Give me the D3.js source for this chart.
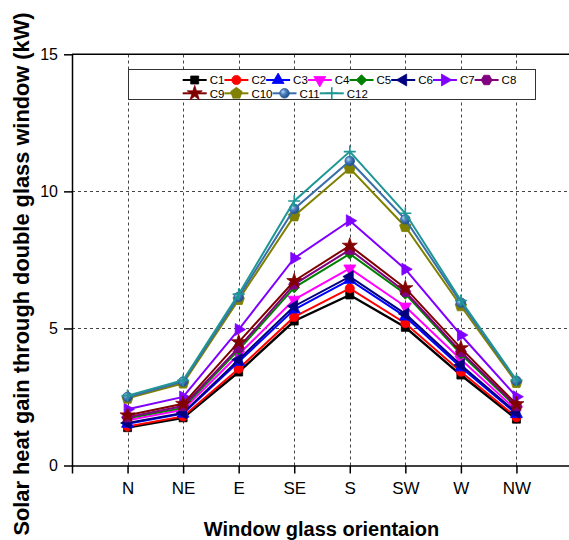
<!DOCTYPE html>
<html>
<head>
<meta charset="utf-8">
<script src="https://cdn.jsdelivr.net/npm/d3@7"></script>
<style>
    body { margin: 0; background: #fff; }
    text { font-family: Arial, 'Liberation Sans', sans-serif; }
</style>
</head>
<body>
<div id="viz"></div>
<script>
const categories = ['N', 'NE', 'E', 'SE', 'S', 'SW', 'W', 'NW']
const yTicks = [0, 5, 10, 15]

const seriesNames = ['C1', 'C2', 'C3', 'C4', 'C5', 'C6', 'C7', 'C8', 'C9', 'C10', 'C11', 'C12']

const c1 = [1.38, 1.74, 3.41, 5.27, 6.22, 5.04, 3.30, 1.69]
const c2 = [1.42, 1.79, 3.53, 5.42, 6.46, 5.19, 3.42, 1.76]
const c3 = [1.52, 1.89, 3.78, 5.69, 6.77, 5.43, 3.58, 1.88]
const c4 = [1.65, 2.03, 4.05, 6.05, 7.19, 5.80, 3.87, 2.02]
const c5 = [1.72, 2.10, 4.22, 6.49, 7.72, 6.26, 4.07, 2.12]
const c6 = [1.55, 1.92, 3.86, 5.81, 6.89, 5.53, 3.67, 1.93]
const c7 = [2.05, 2.50, 4.96, 7.56, 8.93, 7.16, 4.76, 2.51]
const c8 = [1.76, 2.17, 4.30, 6.61, 7.87, 6.34, 4.15, 2.17]
const c9 = [1.83, 2.25, 4.50, 6.73, 8.02, 6.47, 4.28, 2.24]
const c10 = [2.45, 3.00, 6.05, 9.10, 10.84, 8.71, 5.82, 3.02]
const c11 = [2.50, 3.06, 6.15, 9.36, 11.11, 8.98, 5.94, 3.09]
const c12 = [2.55, 3.11, 6.25, 9.65, 11.45, 9.20, 6.02, 3.12]

const seriesValues = [c1, c2, c3, c4, c5, c6, c7, c8, c9, c10, c11, c12]

const colors = ['#000000', '#ff0000', '#0000ff', '#ff00ff', '#008000', '#000080',
    '#8000ff', '#800080', '#800000', '#808000', '#3a6ea8', '#1f9696']

// regular polygon path for hexagon / pentagon markers
const polygon = (n, r, rot) => {
    const pts = d3.range(n).map(i => {
        const a = rot + i * 2 * Math.PI / n
        return [r * Math.sin(a), -r * Math.cos(a)]
    })
    return 'M' + pts.map(p => p.join(',')).join('L') + 'Z'
}

const markers = [
    { path: d3.symbol(d3.symbolSquare, 64)(), rot: 0 },
    { path: d3.symbol(d3.symbolCircle, 66)(), rot: 0 },
    { path: d3.symbol(d3.symbolTriangle, 62)(), rot: 0 },
    { path: d3.symbol(d3.symbolTriangle, 62)(), rot: 180 },
    { path: d3.symbol(d3.symbolSquare, 56)(), rot: 45 },
    { path: d3.symbol(d3.symbolTriangle, 62)(), rot: -90 },
    { path: d3.symbol(d3.symbolTriangle, 62)(), rot: 90 },
    { path: polygon(6, 5.5, Math.PI / 6), rot: 0 },
    { path: d3.symbol(d3.symbolStar, 70)(), rot: 0 },
    { path: polygon(5, 6, 0), rot: 0 },
    { path: d3.symbol(d3.symbolCircle, 72)(), rot: 0, ball: true },
    { path: 'M-6,0H6M0,-6V6', rot: 0, cross: true }
]

const render = () => {
    const w = 569, h = 540

    const svg = d3.select('#viz')
        .append('svg')
        .attr('width', w)
        .attr('height', h)
        .attr('viewBox', [0, 0, w, h])

    const defs = svg.append('defs')
    const grad = defs.append('radialGradient')
        .attr('id', 'ball')
        .attr('cx', '35%').attr('cy', '35%').attr('r', '65%')
    grad.append('stop').attr('offset', '0%').attr('stop-color', '#b8d4f0')
    grad.append('stop').attr('offset', '45%').attr('stop-color', '#4a7fc0')
    grad.append('stop').attr('offset', '100%').attr('stop-color', '#1f4f8a')

    const left = 72, right = 572, top = 54.3, bottom = 465.5

    const x = d3.scaleLinear()
        .domain([0, categories.length + 1])
        .range([left, right])

    const y = d3.scaleLinear()
        .domain([0, 15])
        .range([bottom, top])

    // grid
    const grid = svg.append('g')
        .attr('stroke', '#444')
        .attr('stroke-width', 1)
        .attr('stroke-dasharray', '3,3')
    grid.selectAll('.vg')
        .data(categories)
        .join('line')
        .attr('x1', (d, i) => Math.round(x(i + 1)) + 0.5)
        .attr('x2', (d, i) => Math.round(x(i + 1)) + 0.5)
        .attr('y1', y(0))
        .attr('y2', y(15))
    grid.selectAll('.hg')
        .data([5, 10])
        .join('line')
        .attr('x1', left)
        .attr('x2', w)
        .attr('y1', d => Math.round(y(d)) + 0.5)
        .attr('y2', d => Math.round(y(d)) + 0.5)

    // top frame
    svg.append('line')
        .attr('x1', left).attr('x2', w)
        .attr('y1', y(15)).attr('y2', y(15))
        .attr('stroke', '#000')
        .attr('stroke-width', 1.5)

    // axes
    const yAxisG = svg.append('g')
        .attr('transform', `translate(${left}, 0)`)
        .call(d3.axisLeft(y)
            .tickValues(yTicks)
            .tickSize(8)
            .tickSizeOuter(0)
            .tickPadding(6))
    yAxisG.selectAll('path, line').attr('stroke-width', 1.5)
    yAxisG.selectAll('text')
        .attr('font-size', 16)
        .attr('font-family', 'Arial, Liberation Sans, sans-serif')
        .attr('fill', '#000')

    const xAxisG = svg.append('g')
        .attr('transform', `translate(0, ${bottom})`)
        .call(d3.axisBottom(x)
            .tickValues(d3.range(0, categories.length + 1))
            .tickFormat(i => i ? categories[i - 1] : '')
            .tickSize(8)
            .tickSizeOuter(0)
            .tickPadding(8))
    xAxisG.selectAll('path, line').attr('stroke-width', 1.5)
    xAxisG.selectAll('text')
        .attr('font-size', 17)
        .attr('font-family', 'Arial, Liberation Sans, sans-serif')
        .attr('fill', '#000')

    // axis titles
    svg.append('text')
        .attr('x', 321.5)
        .attr('y', 535.5)
        .attr('text-anchor', 'middle')
        .attr('font-size', 20)
        .attr('font-weight', 'bold')
        .text('Window glass orientaion')

    svg.append('text')
        .attr('transform', 'translate(28.5, 274) rotate(-90)')
        .attr('text-anchor', 'middle')
        .attr('font-size', 21.8)
        .attr('font-weight', 'bold')
        .text('Solar heat gain through double glass window (kW)')

    const line = d3.line()
        .x((d, i) => x(i + 1))
        .y(d => y(d))

    const drawMarker = (sel, k) => {
        const m = markers[k]
        sel.append('path')
            .attr('d', m.path)
            .attr('transform', `rotate(${m.rot})`)
            .attr('fill', m.cross ? 'none' : (m.ball ? 'url(#ball)' : colors[k]))
            .attr('stroke', m.cross ? colors[k] : (m.ball ? '#2a5a94' : colors[k]))
            .attr('stroke-width', m.cross ? 1.6 : 0.8)
    }

    // series
    seriesValues.forEach((vals, k) => {
        const g = svg.append('g')
        g.append('path')
            .datum(vals)
            .attr('d', line)
            .attr('fill', 'none')
            .attr('stroke', colors[k])
            .attr('stroke-width', k === 0 ? 2.4 : 2)
        g.selectAll('g')
            .data(vals)
            .join('g')
            .attr('transform', (d, i) => `translate(${x(i + 1)}, ${y(d)})`)
            .each(function () { drawMarker(d3.select(this), k) })
    })

    // legend
    const lg = svg.append('g')
    lg.append('rect')
        .attr('x', 128.5).attr('y', 69.5)
        .attr('width', 407).attr('height', 30)
        .attr('fill', '#fff')
        .attr('stroke', '#333')
        .attr('stroke-width', 1)

    const rows = [seriesNames.slice(0, 8), seriesNames.slice(8)]
    const rowY = [80, 93.3]
    rows.forEach((names, r) => {
        let cx = 182.7
        names.forEach(name => {
            const k = seriesNames.indexOf(name)
            const item = lg.append('g')
            item.append('line')
                .attr('x1', cx).attr('x2', cx + 24)
                .attr('y1', rowY[r]).attr('y2', rowY[r])
                .attr('stroke', colors[k])
                .attr('stroke-width', 2)
            drawMarker(item.append('g').attr('transform', `translate(${cx + 12}, ${rowY[r]})`), k)
            const t = item.append('text')
                .attr('x', cx + 27)
                .attr('y', rowY[r] + 4.2)
                .attr('font-size', 11.5)
                .attr('fill', '#000')
                .text(name)
            cx += 27 + t.node().getComputedTextLength()
        })
    })
}

render()
</script>
</body>
</html>
